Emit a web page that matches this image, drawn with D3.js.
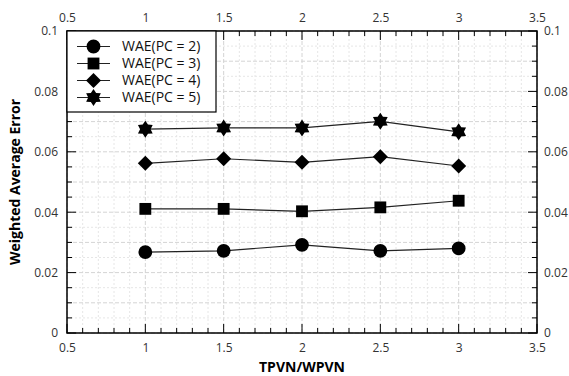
<!DOCTYPE html>
<html>
<head>
<meta charset="utf-8">
<script src="https://cdn.jsdelivr.net/npm/d3@7"></script>
<style>
  body { margin: 0; background: #fff; }
  text { font-family: "Open Sans", "Noto Sans", sans-serif; }
</style>
</head>
<body>
<div id="chart"></div>
<script>
// data
const ratios = [1, 1.5, 2, 2.5, 3];
const wae2 = [0.0268, 0.0272, 0.0292, 0.0272, 0.0280];
const wae3 = [0.0411, 0.0411, 0.0403, 0.0416, 0.0438];
const wae4 = [0.0562, 0.0577, 0.0565, 0.0584, 0.0553];
const wae5 = [0.0675, 0.0679, 0.0679, 0.0701, 0.0666];
const seriesNames = ['WAE(PC = 2)', 'WAE(PC = 3)', 'WAE(PC = 4)', 'WAE(PC = 5)'];
const xTickLabels = ['0.5', '1', '1.5', '2', '2.5', '3', '3.5'];
const yTickLabels = ['0', '0.02', '0.04', '0.06', '0.08', '0.1'];

const width = 569, height = 376;
const m = {left: 67, right: 32, top: 31, bottom: 43};

const svg = d3.select('#chart').append('svg')
  .attr('width', width)
  .attr('height', height);

const x = d3.scaleLinear().domain([0.5, 3.5]).range([m.left, width - m.right]);
const y = d3.scaleLinear().domain([0, 0.1]).range([height - m.bottom, m.top]);

const minorX = d3.range(5, 36).map(d => d / 10);
const minorY = d3.range(0, 21).map(d => d * 0.005);

// grid
const grid = svg.append('g');
grid.selectAll('.gx').data(minorX).enter().append('line')
  .attr('x1', d => x(d)).attr('x2', d => x(d))
  .attr('y1', y(0)).attr('y2', y(0.1))
  .attr('stroke', (d, i) => i % 5 == 0 ? '#d4d4d4' : '#e6e6e6')
  .attr('stroke-dasharray', (d, i) => i % 5 == 0 ? '4,2' : '2,2');
grid.selectAll('.gy').data(minorY).enter().append('line')
  .attr('x1', x(0.5)).attr('x2', x(3.5))
  .attr('y1', d => y(d)).attr('y2', d => y(d))
  .attr('stroke', (d, i) => i % 2 == 0 ? '#d4d4d4' : '#e6e6e6')
  .attr('stroke-dasharray', (d, i) => i % 2 == 0 ? '4,2' : '2,2');

// axes with inward ticks
function tickFmt(labels, vals) {
  return d => { const i = vals.findIndex(v => Math.abs(v - d) < 1e-9); return i >= 0 ? labels[i] : ''; };
}
const xMajor = xTickLabels.map(Number);
const yMajor = yTickLabels.map(Number);

function styleAxis(g) {
  g.select('.domain').remove();
  g.selectAll('.tick line').attr('stroke', '#000');
  g.selectAll('.tick text').attr('fill', '#333').attr('font-size', 12);
}

// minor ticks
[['bottom', y(0), -1], ['top', y(0.1), 1]].forEach(([pos, yy, dir]) => {
  svg.append('g').selectAll('line').data(minorX).enter().append('line')
    .attr('x1', d => x(d)).attr('x2', d => x(d))
    .attr('y1', yy).attr('y2', (d, i) => yy + dir * (i % 5 == 0 ? 9 : 5))
    .attr('stroke', '#000');
});
[['left', x(0.5), 1], ['right', x(3.5), -1]].forEach(([pos, xx, dir]) => {
  svg.append('g').selectAll('line').data(minorY).enter().append('line')
    .attr('y1', d => y(d)).attr('y2', d => y(d))
    .attr('x1', xx).attr('x2', (d, i) => xx + dir * (i % 4 == 0 ? 9 : 5))
    .attr('stroke', '#000');
});

svg.append('g').attr('transform', `translate(0,${y(0)})`)
  .call(d3.axisBottom(x).tickValues(xMajor).tickSize(0).tickPadding(10).tickFormat(tickFmt(xTickLabels, xMajor)))
  .call(styleAxis);
svg.append('g').attr('transform', `translate(0,${y(0.1)})`)
  .call(d3.axisTop(x).tickValues(xMajor).tickSize(0).tickPadding(9).tickFormat(tickFmt(xTickLabels, xMajor)))
  .call(styleAxis);
svg.append('g').attr('transform', `translate(${x(0.5)},0)`)
  .call(d3.axisLeft(y).tickValues(yMajor).tickSize(0).tickPadding(9).tickFormat(tickFmt(yTickLabels, yMajor)))
  .call(styleAxis);
svg.append('g').attr('transform', `translate(${x(3.5)},0)`)
  .call(d3.axisRight(y).tickValues(yMajor).tickSize(0).tickPadding(7).tickFormat(tickFmt(yTickLabels, yMajor)))
  .call(styleAxis);

// frame
svg.append('rect')
  .attr('x', x(0.5)).attr('y', y(0.1))
  .attr('width', x(3.5) - x(0.5)).attr('height', y(0) - y(0.1))
  .attr('fill', 'none').attr('stroke', '#000').attr('stroke-width', 1.5);

// axis titles
svg.append('text')
  .attr('x', (x(0.5) + x(3.5)) / 2).attr('y', 372)
  .attr('text-anchor', 'middle').attr('font-size', 14).attr('font-weight', 'bold')
  .text('TPVN/WPVN');
svg.append('text')
  .attr('transform', `translate(20,${(y(0) + y(0.1)) / 2}) rotate(-90)`)
  .attr('text-anchor', 'middle').attr('font-size', 14).attr('font-weight', 'bold')
  .text('Weighted Average Error');

// markers
function diamond(r) {
  return `M0,${-r}L${r},0L0,${r}L${-r},0Z`;
}
function hexagram(r) {
  const pts = [];
  for (let k = 0; k < 12; k++) {
    const a = -Math.PI / 2 + k * Math.PI / 6;
    const rr = k % 2 == 0 ? r : r * 0.62;
    pts.push([rr * Math.cos(a), rr * Math.sin(a)]);
  }
  return 'M' + pts.map(p => p.join(',')).join('L') + 'Z';
}
function markerPath(i) {
  if (i == 0) return d3.symbol().type(d3.symbolCircle).size(150)();
  if (i == 1) return d3.symbol().type(d3.symbolSquare).size(140)();
  if (i == 2) return diamond(7.5);
  return hexagram(8.5);
}

const allSeries = [wae2, wae3, wae4, wae5];
const line = d3.line().x((d, i) => x(ratios[i])).y(d => y(d));

allSeries.forEach((vals, si) => {
  svg.append('path')
    .datum(vals)
    .attr('d', line)
    .attr('fill', 'none')
    .attr('stroke', '#222')
    .attr('stroke-width', 1.2);
  svg.append('g').selectAll('path').data(vals).enter().append('path')
    .attr('d', markerPath(si))
    .attr('transform', (d, i) => `translate(${x(ratios[i])},${y(d)})`)
    .attr('fill', '#000');
});

// legend
const lg = svg.append('g');
lg.append('rect')
  .attr('x', x(0.5)).attr('y', y(0.1))
  .attr('width', 149).attr('height', 81)
  .attr('fill', '#fff').attr('stroke', '#000').attr('stroke-width', 1.2);
seriesNames.forEach((name, i) => {
  const ly = 46.5 + i * 17;
  lg.append('line')
    .attr('x1', 77).attr('x2', 110).attr('y1', ly).attr('y2', ly)
    .attr('stroke', '#222').attr('stroke-width', 1.2);
  lg.append('path')
    .attr('d', markerPath(i))
    .attr('transform', `translate(93.5,${ly})`)
    .attr('fill', '#000');
  lg.append('text')
    .attr('x', 122).attr('y', ly).attr('dy', '0.35em')
    .attr('font-size', 14).attr('fill', '#111')
    .text(name);
});
</script>
</body>
</html>
